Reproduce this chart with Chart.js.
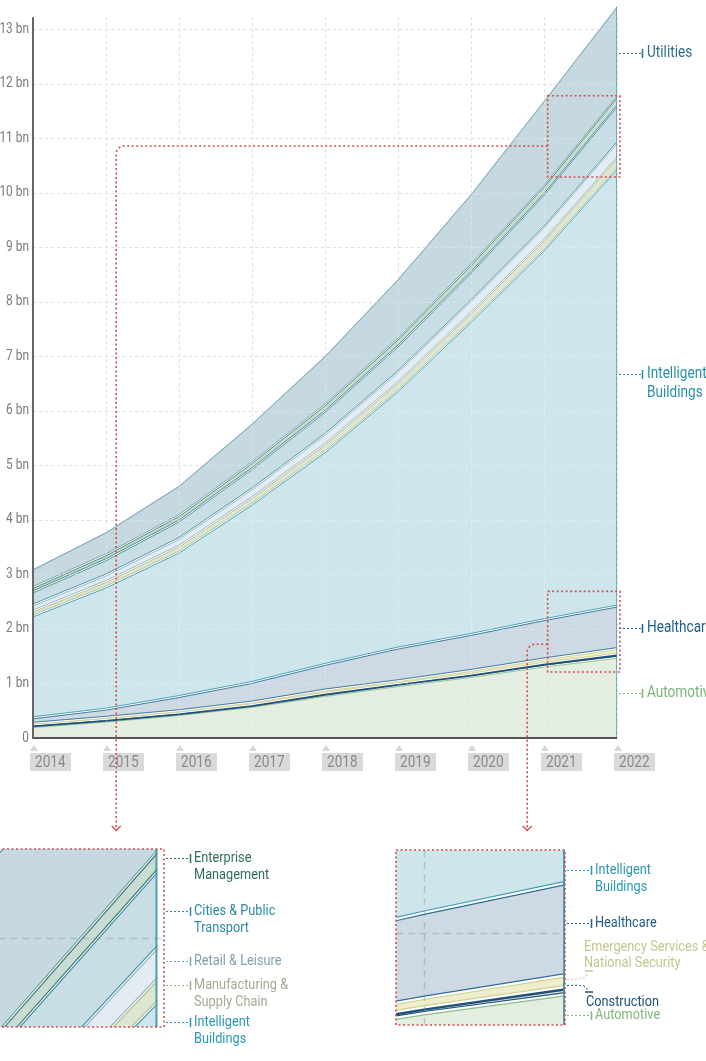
<!DOCTYPE html>
<html>
<head>
<meta charset="utf-8">
<script src="https://cdn.jsdelivr.net/npm/chart.js@4"></script>
<style>
  html, body { margin: 0; padding: 0; background: #fff; overflow: hidden; }
  #wrap { position: relative; width: 706px; height: 1061px; overflow: hidden; }
  canvas { position: absolute; }
</style>
</head>
<body>
<div id="wrap">
  <canvas id="main" width="706" height="1061" style="left:0;top:0;width:706px;height:1061px"></canvas>
  <canvas id="zoomA" width="360" height="221" style="left:-2px;top:840px;width:360px;height:221px"></canvas>
  <canvas id="zoomB" width="326" height="221" style="left:380px;top:840px;width:326px;height:221px"></canvas>
</div>
<script>
// connected things by sector, bn of units (band thickness, stacked bottom to top)
const years = [2014, 2015, 2016, 2017, 2018, 2019, 2020, 2021, 2022];
const automotive           = [0.21, 0.31, 0.43, 0.58, 0.78, 0.96, 1.13, 1.32, 1.48];
const construction         = [0.03, 0.03, 0.03, 0.03, 0.04, 0.04, 0.04, 0.05, 0.06];
const emergency            = [0.03, 0.04, 0.04, 0.05, 0.06, 0.05, 0.07, 0.08, 0.10];
const healthcare           = [0.10, 0.15, 0.26, 0.36, 0.47, 0.60, 0.66, 0.72, 0.78];
const intelligentBuildings = [1.87, 2.24, 2.65, 3.27, 3.90, 4.72, 5.74, 6.78, 8.02];
const manufacturing        = [0.09, 0.10, 0.11, 0.12, 0.14, 0.15, 0.16, 0.18, 0.20];
const retail               = [0.11, 0.12, 0.14, 0.16, 0.18, 0.20, 0.22, 0.24, 0.28];
const cities               = [0.24, 0.28, 0.32, 0.37, 0.42, 0.47, 0.52, 0.60, 0.67];
const enterprise           = [0.08, 0.09, 0.10, 0.11, 0.12, 0.13, 0.14, 0.15, 0.17];
const utilities            = [0.34, 0.42, 0.55, 0.72, 0.90, 1.10, 1.30, 1.57, 1.66];
const yTicks = [0, 1, 2, 3, 4, 5, 6, 7, 8, 9, 10, 11, 12, 13];

const FONT = 'Roboto, "Liberation Sans", sans-serif';
const SQUEEZE = 0.85;   // condensed look
const RED = '#d64b4b';

// label, values, fill, line colour, line width
const seriesDefs = [
  ['Automotive', automotive, '#e3eee1', '#8cbf89', 1],
  ['Construction', construction, '#e6ecd9', '#1f4f7b', 2],
  ['Emergency Services & National Security', emergency, '#eeedcc', '#cfd197', 1],
  ['Healthcare', healthcare, '#cdd9e3', '#2f6f98', 1],
  ['Intelligent Buildings', intelligentBuildings, '#cee6eb', '#3b9cb4', 1],
  ['Manufacturing & Supply Chain', manufacturing, '#dde6d0', '#b3bc90', 1],
  ['Retail & Leisure', retail, '#e2ecf2', '#8fb2c4', 1],
  ['Cities & Public Transport', cities, '#c9dee4', '#3d8ea8', 1],
  ['Enterprise Management', enterprise, '#c8dcd4', '#427f6e', 1],
  ['Utilities', utilities, '#c6d9e0', '#6e9fab', 1]
];

function makeDatasets() {
  return seriesDefs.map(([label, vals, fill, line], i) => ({
    label: label,
    data: years.map((yr, j) => ({ x: yr, y: vals[j] })),
    backgroundColor: fill,
    borderColor: line,
    borderWidth: 0,
    fill: i === 0 ? 'origin' : '-1',
    pointRadius: 0,
    tension: 0
  }));
}

function totalAt(j) {
  return seriesDefs.reduce((s, d) => s + d[1][j], 0);
}

function seg(ctx, x1, y1, x2, y2) {
  ctx.beginPath(); ctx.moveTo(x1, y1); ctx.lineTo(x2, y2); ctx.stroke();
}

// condensed text: x is the left edge (or right edge when align = 'right')
function text(ctx, lines, x, y, color, size, lh, align) {
  ctx.save();
  ctx.fillStyle = color;
  ctx.font = size + 'px ' + FONT;
  ctx.textAlign = align || 'left';
  ctx.textBaseline = 'middle';
  lines.forEach((t, i) => {
    ctx.save();
    ctx.translate(x, y + i * lh);
    ctx.scale(SQUEEZE, 1);
    ctx.fillText(t, 0, 0);
    ctx.restore();
  });
  ctx.restore();
}

// dashed leader ending with a small vertical tick
function leader(ctx, x1, x2, y, color) {
  ctx.save();
  ctx.strokeStyle = color; ctx.lineWidth = 1;
  ctx.setLineDash([2, 2]);
  seg(ctx, x1, y + 0.5, x2, y + 0.5);
  ctx.setLineDash([]);
  ctx.lineWidth = 1.5;
  seg(ctx, x2 + 1.5, y - 4, x2 + 1.5, y + 5);
  ctx.restore();
}

function redConnector(ctx, xStart, yRow, xCol, yEnd) {
  const r = 8;
  ctx.save();
  ctx.strokeStyle = RED; ctx.lineWidth = 1.6;
  ctx.setLineDash([2, 2.5]);
  ctx.beginPath();
  ctx.moveTo(xStart, yRow);
  ctx.lineTo(xCol + r, yRow);
  ctx.arcTo(xCol, yRow, xCol, yRow + r, r);
  ctx.lineTo(xCol, yEnd);
  ctx.stroke();
  ctx.setLineDash([]);
  ctx.lineWidth = 1.3;
  ctx.beginPath();
  ctx.moveTo(xCol - 4.5, yEnd - 3); ctx.lineTo(xCol, yEnd + 1.5); ctx.lineTo(xCol + 4.5, yEnd - 3);
  ctx.stroke();
  ctx.restore();
}

function redBox(ctx, x1, y1, x2, y2) {
  ctx.save();
  ctx.strokeStyle = RED; ctx.lineWidth = 1.6;
  ctx.setLineDash([2, 2.5]);
  ctx.strokeRect(x1, y1, x2 - x1, y2 - y1);
  ctx.restore();
}

// each boundary drawn as two thin lines with a white gap
function drawBoundaries(chart, off, lw) {
  const { ctx, chartArea: a } = chart;
  ctx.save();
  ctx.beginPath(); ctx.rect(a.left, a.top, a.right - a.left, a.bottom - a.top); ctx.clip();
  const n = seriesDefs.length;
  for (let i = 0; i < n; i++) {
    const pts = chart.getDatasetMeta(i).data;
    const path = dy => {
      ctx.beginPath();
      pts.forEach((p, k) => (k ? ctx.lineTo(p.x, p.y + dy) : ctx.moveTo(p.x, p.y + dy)));
    };
    const w = lw * seriesDefs[i][4];
    if (i < n - 1) {
      ctx.strokeStyle = 'rgba(255,255,255,0.9)'; ctx.lineWidth = off * 2 - 0.2; path(0); ctx.stroke();
      ctx.strokeStyle = seriesDefs[i + 1][3]; ctx.lineWidth = lw; path(-off); ctx.stroke();
    }
    ctx.strokeStyle = seriesDefs[i][3]; ctx.lineWidth = w; path(off + (w - lw) / 2); ctx.stroke();
  }
  ctx.restore();
}

// zoom windows (years / bn) shown in the insets below
const zoomTop = { x0: 2021.05, x1: 2022.04, y0: 10.29, y1: 11.78, rowAt: 10.86, colAt: 2015.14 };
const zoomLow = { x0: 2021.05, x1: 2022.04, y0: 1.21, y1: 2.69, rowAt: 1.72, colAt: 2020.77 };

const mainLabels = [
  { text: ['Utilities'], at: 12.57, color: '#2b6f8e' },
  { text: ['Intelligent', 'Buildings'], at: 6.68, color: '#2a8eaa' },
  { text: ['Healthcare'], at: 2.02, color: '#1e5d87' },
  { text: ['Automotive'], at: 0.83, color: '#79b777' }
];

const gridTop = 13.22;

function drawGrid(chart, color) {
  const { ctx, scales: { x, y } } = chart;
  ctx.save();
  ctx.strokeStyle = color; ctx.lineWidth = 1; ctx.setLineDash([3, 3]);
  yTicks.forEach(v => {
    if (v === 0) return;
    const py = Math.round(y.getPixelForValue(v)) + 0.5;
    seg(ctx, x.left, py, x.right, py);
  });
  years.forEach(v => {
    const px = Math.round(x.getPixelForValue(v)) + 0.5;
    seg(ctx, px, y.getPixelForValue(gridTop), px, y.bottom);
  });
  ctx.restore();
}

const mainDecor = {
  id: 'mainDecor',
  beforeDatasetsDraw(chart) {
    drawGrid(chart, '#d2d2d2');
  },
  afterDatasetsDraw(chart) {
    const { ctx, scales: { x, y } } = chart;
    drawBoundaries(chart, 1.0, 0.9);
    drawGrid(chart, 'rgba(255,255,255,0.3)');
    ctx.save();
    // right edge of the stack
    const last = years.length - 1;
    const ex = x.getPixelForValue(years[last]) - 0.5;
    ctx.strokeStyle = 'rgba(70,150,175,0.7)'; ctx.lineWidth = 1;
    seg(ctx, ex, y.getPixelForValue(totalAt(last)), ex, y.bottom);
    // axes
    ctx.strokeStyle = '#666'; ctx.lineWidth = 2;
    seg(ctx, x.left, y.getPixelForValue(gridTop), x.left, y.bottom + 1);
    ctx.strokeStyle = '#555';
    seg(ctx, x.left, y.bottom, x.right, y.bottom);
    ctx.restore();
  },
  afterDraw(chart) {
    const { ctx, scales: { x, y } } = chart;
    ctx.save();
    // value labels
    yTicks.forEach(v => {
      text(ctx, [v === 0 ? '0' : v + ' bn'], x.left - 4, y.getPixelForValue(v), '#7a7a7a', 14, 0, 'right');
    });
    // year labels in grey boxes with a small marker
    years.forEach(v => {
      const px = Math.round(x.getPixelForValue(v));
      const by = y.bottom;
      ctx.fillStyle = '#d6d6d6';
      ctx.beginPath();
      ctx.moveTo(px - 3, by + 13); ctx.lineTo(px + 5, by + 13); ctx.lineTo(px + 1, by + 7);
      ctx.closePath(); ctx.fill();
      ctx.fillStyle = '#dadada';
      ctx.fillRect(px - 3, by + 15, 41, 18);
      text(ctx, [String(v)], px + 2, by + 24.5, '#8a8a8a', 16, 0);
    });
    // series labels on the right
    mainLabels.forEach(l => {
      const py = Math.round(y.getPixelForValue(l.at));
      leader(ctx, x.right + 2, x.right + 24, py, l.color);
      text(ctx, l.text, x.right + 30, py, l.color, 16, 19);
    });
    // zoom boxes and connectors
    [zoomTop, zoomLow].forEach(z => {
      const x0 = x.getPixelForValue(z.x0), x1 = x.getPixelForValue(z.x1);
      const y0 = y.getPixelForValue(z.y0), y1 = y.getPixelForValue(z.y1);
      redBox(ctx, x0, y1, x1, y0);
      redConnector(ctx, x0, y.getPixelForValue(z.rowAt), x.getPixelForValue(z.colAt), y.bottom + 91);
    });
    ctx.restore();
  }
};

new Chart(document.getElementById('main'), {
  type: 'line',
  data: { datasets: makeDatasets() },
  options: {
    responsive: false,
    animation: false,
    events: [],
    layout: { padding: { left: 0, right: 89, top: 2, bottom: 323 } },
    plugins: { legend: { display: false }, tooltip: { enabled: false } },
    scales: {
      x: { type: 'linear', min: 2014, max: 2022, display: false },
      y: {
        stacked: true, min: 0, max: 13.5,
        grid: { display: false, drawTicks: false },
        border: { display: false },
        ticks: { display: false },
        afterFit: s => { s.width = 33; s.paddingTop = 0; s.paddingBottom = 0; }
      }
    }
  },
  plugins: [mainDecor]
});

// ---- insets ----
function insetDecor(cfg) {
  return {
    id: 'insetDecor',
    afterDatasetsDraw(chart) {
      const { ctx, scales: { x, y }, chartArea: a } = chart;
      drawBoundaries(chart, 1.7, 1.2);
      ctx.save();
      ctx.beginPath(); ctx.rect(a.left, a.top, a.right - a.left, a.bottom - a.top); ctx.clip();
      ctx.strokeStyle = 'rgba(130,145,155,0.4)'; ctx.lineWidth = 1.5; ctx.setLineDash([7, 5]);
      if (cfg.gridX !== null) {
        const gx = Math.round(x.getPixelForValue(cfg.gridX)) + 0.5;
        seg(ctx, gx, a.top, gx, a.bottom);
      }
      const gy = Math.round(y.getPixelForValue(cfg.gridY)) + 0.5;
      seg(ctx, a.left, gy, a.right, gy);
      ctx.setLineDash([]);
      const last = years.length - 1;
      const ex = x.getPixelForValue(years[last]) - 1;
      ctx.strokeStyle = 'rgba(60,150,178,0.9)'; ctx.lineWidth = 2;
      seg(ctx, ex, y.getPixelForValue(totalAt(last)), ex, a.bottom);
      ctx.restore();
    },
    afterDraw(chart) {
      const { ctx, scales: { y }, chartArea: a } = chart;
      redBox(ctx, a.left, a.top, a.right, a.bottom);
      cfg.labels.forEach(l => {
        const py = Math.round(y.getPixelForValue(l.at));
        if (!l.curve) {
          leader(ctx, a.right + 2, a.right + 25, py, l.color);
          text(ctx, l.text, a.right + 30, py, l.color, 15, 17);
        } else {
          const barY = py + l.curve;
          ctx.save();
          ctx.strokeStyle = l.color; ctx.lineWidth = 1; ctx.setLineDash([2, 2]);
          ctx.beginPath();
          ctx.moveTo(a.right + 2, py + 0.5);
          ctx.bezierCurveTo(a.right + 16, py, a.right + 22, py, a.right + 22, barY + (l.curve < 0 ? 2 : -2));
          ctx.stroke();
          ctx.setLineDash([]); ctx.lineWidth = 1.5;
          seg(ctx, a.right + 20, barY, a.right + 28, barY);
          ctx.restore();
          text(ctx, l.text, a.right + l.textX, barY + l.textDy, l.color, 15, 16);
        }
      });
    }
  };
}

function buildInset(id, opt) {
  return new Chart(document.getElementById(id), {
    type: 'line',
    data: { datasets: makeDatasets() },
    options: {
      responsive: false,
      animation: false,
      events: [],
      layout: { padding: opt.padding },
      plugins: { legend: { display: false }, tooltip: { enabled: false } },
      scales: {
        x: { type: 'linear', min: opt.xMin, max: opt.xMax, display: false },
        y: { stacked: true, min: opt.yMin, max: opt.yMax, display: false }
      }
    },
    plugins: [insetDecor(opt)]
  });
}

buildInset('zoomA', {
  padding: { left: 0, top: 9, right: 194, bottom: 34 },
  xMin: 2021.03, xMax: 2022.04, yMin: 10.22, yMax: 11.78,
  gridX: null, gridY: 11,
  labels: [
    { text: ['Enterprise', 'Management'], at: 11.70, color: '#2f6d5b' },
    { text: ['Cities & Public', 'Transport'], at: 11.24, color: '#2b8aa7' },
    { text: ['Retail & Leisure'], at: 10.80, color: '#80a0ae' },
    { text: ['Manufacturing &', 'Supply Chain'], at: 10.59, color: '#a2aa92' },
    { text: ['Intelligent', 'Buildings'], at: 10.265, color: '#2a98b3' }
  ]
});

buildInset('zoomB', {
  padding: { left: 16, top: 10, right: 141, bottom: 36 },
  xMin: 2020.8, xMax: 2022.0, yMin: 1.22, yMax: 2.70,
  gridX: 2021, gridY: 2,
  labels: [
    { text: ['Intelligent', 'Buildings'], at: 2.53, color: '#2a98b3' },
    { text: ['Healthcare'], at: 2.08, color: '#1e5d87' },
    { text: ['Emergency Services &', 'National Security'], at: 1.61, color: '#c3c68c',
      curve: -8, textX: 19, textDy: -24 },
    { text: ['Construction'], at: 1.558, color: '#1d4f7a',
      curve: 7, textX: 21, textDy: 10 },
    { text: ['Automotive'], at: 1.305, color: '#7cb97a' }
  ]
});
</script>
</body>
</html>
